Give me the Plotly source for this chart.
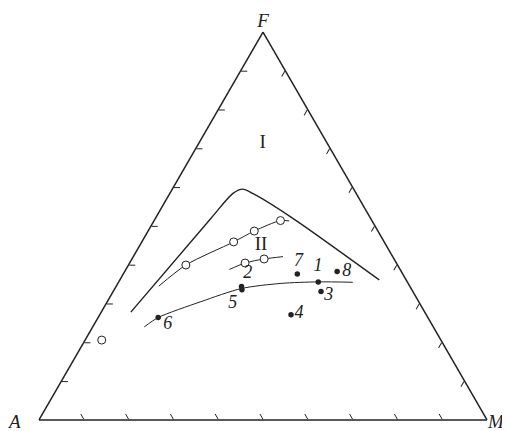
import plotly.graph_objects as go

# Ternary coordinates in percent: F (top), A (bottom left), M (bottom right)

# filled samples 1..8 (sample 5 is a pair of nearly coincident points)
dot_F = [35.6, 33.1, 38.3, 37.6, 27.1, 34.4, 33.6, 26.4]
dot_A = [19.9, 20.5, 14.3, 23.5, 30.2, 37.6, 37.9, 60.2]
dot_M = [44.6, 46.4, 47.4, 38.8, 42.7, 28.0, 28.5, 13.4]

# open circles
ring_F = [39.9, 45.9, 48.7, 51.4, 40.5, 41.5, 20.6]
ring_A = [47.2, 33.6, 27.6, 20.4, 33.8, 29.0, 75.7]
ring_M = [12.8, 20.5, 23.7, 28.2, 25.8, 29.5, 3.7]

# trend line through the upper row of open circles
upper_F = [34.5, 39.9, 45.9, 48.7, 51.4, 51.3]
upper_A = [56.0, 47.2, 33.6, 27.6, 20.4, 18.5]
upper_M = [9.5, 12.8, 20.5, 23.7, 28.2, 30.2]

# short line through the two open circles near label 2
short_F = [38.8, 40.5, 41.5, 42.1]
short_A = [38.1, 33.8, 29.0, 24.5]
short_M = [23.1, 25.8, 29.5, 33.4]

# curve through filled samples 6, 5 and 1
lower_F = [24.0, 26.4, 30.5, 33.9, 35.2, 35.6, 35.5]
lower_A = [64.5, 60.2, 48.6, 37.8, 28.4, 19.9, 12.2]
lower_M = [11.5, 13.4, 20.9, 28.3, 36.4, 44.5, 52.3]

# boundary between fields I and II
bound_F = [27.8, 52.0, 58.4, 59.5, 58.4, 52.3, 36.1]
bound_A = [65.6, 35.6, 27.5, 24.8, 23.1, 17.6, 6.0]
bound_M = [6.6, 12.4, 14.1, 15.7, 18.5, 30.1, 57.9]

# sample numbers
num_text = ['1', '2', '3', '4', '5', '6', '7', '8']
num_F = [39.5, 37.8, 32.2, 27.5, 30.1, 24.5, 40.8, 38.2]
num_A = [18.0, 34.5, 19.2, 28.2, 41.7, 59.0, 21.7, 12.2]
num_M = [42.5, 27.7, 48.6, 44.3, 28.2, 16.5, 37.5, 49.6]

# field names
field_text = ['I', 'II']
field_F = [71.3, 45.1]
field_A = [14.4, 27.9]
field_M = [14.3, 27.0]

serif = 'Liberation Serif, Times New Roman, serif'
ink = '#222222'

fig = go.Figure()


def add_line(F, A, M, width=1.0, shape='spline'):
    fig.add_trace(go.Scatterternary(
        a=F, b=A, c=M, mode='lines',
        line=dict(color=ink, width=width, shape=shape, smoothing=0.8),
        hoverinfo='skip'))


add_line(bound_F, bound_A, bound_M, width=1.4)
add_line(upper_F, upper_A, upper_M)
add_line(short_F, short_A, short_M)
add_line(lower_F, lower_A, lower_M)

fig.add_trace(go.Scatterternary(
    a=ring_F, b=ring_A, c=ring_M, mode='markers',
    marker=dict(symbol='circle', size=8, color='white',
                line=dict(color=ink, width=1)),
))

fig.add_trace(go.Scatterternary(
    a=dot_F, b=dot_A, c=dot_M, mode='markers',
    marker=dict(symbol='circle', size=5.5, color=ink),
))

fig.add_trace(go.Scatterternary(
    a=num_F, b=num_A, c=num_M, mode='text', text=num_text,
    textfont=dict(family=serif, size=18, color=ink, style='italic'),
    cliponaxis=False, hoverinfo='skip'))

fig.add_trace(go.Scatterternary(
    a=field_F, b=field_A, c=field_M, mode='text', text=field_text,
    textfont=dict(family=serif, size=19, color=ink),
    cliponaxis=False, hoverinfo='skip'))

# apex names
apex_font = dict(family=serif, size=19, color=ink, style='italic')
fig.add_trace(go.Scatterternary(
    a=[100], b=[0], c=[0], mode='text', text=['F'],
    textposition='top center', textfont=apex_font,
    cliponaxis=False, hoverinfo='skip'))
fig.add_annotation(x=-3 / 510, y=5 / 431, xref='paper', yref='paper',
                   text='A', showarrow=False, font=apex_font)
fig.add_annotation(x=499 / 510, y=5 / 431, xref='paper', yref='paper',
                   text='M', showarrow=False, font=apex_font)

axis_style = dict(
    showticklabels=False,
    showgrid=False,
    ticks='inside',
    ticklen=6,
    tickwidth=1,
    tickcolor=ink,
    tickmode='array',
    tickvals=[10, 20, 30, 40, 50, 60, 70, 80, 90],
    linecolor=ink,
    linewidth=1.5,
    title=dict(text=''),
)

fig.update_layout(
    width=510,
    height=431,
    margin=dict(l=0, r=0, t=0, b=0),
    showlegend=False,
    paper_bgcolor='white',
    ternary=dict(
        sum=100,
        domain=dict(x=[31 / 510, 479 / 510], y=[19 / 431, 407 / 431]),
        bgcolor='white',
        aaxis=axis_style,
        baxis=axis_style,
        caxis=axis_style,
    ),
)

fig.write_html("out.html")
